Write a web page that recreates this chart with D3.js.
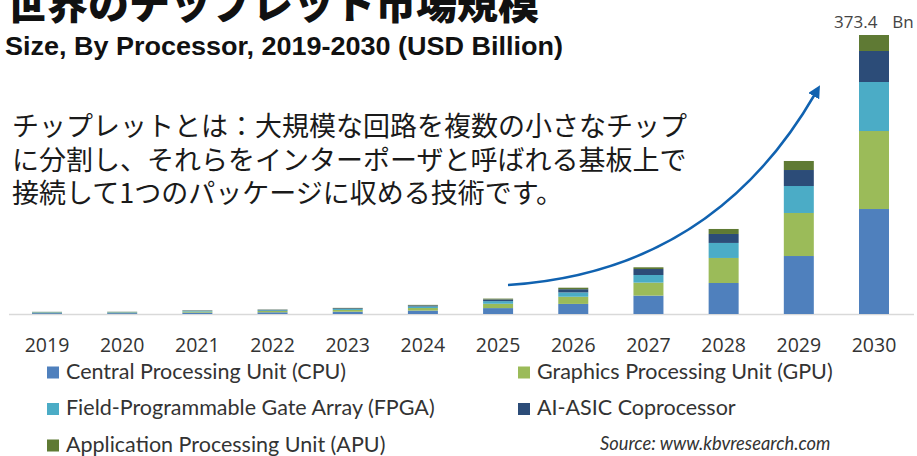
<!DOCTYPE html>
<html>
<head>
<meta charset="utf-8">
<script src="https://cdn.jsdelivr.net/npm/d3@7"></script>
<style>
  body { margin: 0; background: #fff; }
  svg { display: block; }
</style>
</head>
<body>
<script>
// chiplet market, USD billion
const years = ["2019", "2020", "2021", "2022", "2023", "2024", "2025", "2026", "2027", "2028", "2029", "2030"];
const cpu  = [1.2, 1.2, 1.9, 2.3, 3.1, 4.6, 7.9, 13.5, 24.6, 41.5, 77.6, 140.5];
const gpu  = [0.8, 0.8, 1.4, 1.7, 2.3, 3.4, 5.8, 9.6, 17.4, 33.5, 57.6, 104.4];
const fpga = [0.5, 0.5, 0.8, 1.0, 1.4, 2.1, 3.5, 5.8, 10.2, 20.1, 36.1, 65.6];
const asic = [0.3, 0.3, 0.5, 0.7, 0.9, 1.4, 2.3, 4.3, 8.0, 12.0, 21.4, 41.5];
const apu  = [0.1, 0.2, 0.3, 0.3, 0.5, 0.7, 1.1, 2.0, 2.3, 6.7, 12.1, 21.4];

const seriesNames = [
  "Central Processing Unit (CPU)",
  "Graphics Processing Unit (GPU)",
  "Field-Programmable Gate Array (FPGA)",
  "AI-ASIC Coprocessor",
  "Application Processing Unit (APU)"
];
const seriesKeys = ["cpu", "gpu", "fpga", "asic", "apu"];
const seriesColors = ["#4f80bd", "#9bbb59", "#4bacc6", "#2c4c78", "#5f7a34"];

const noteLines = [
  "チップレットとは：大規模な回路を複数の小さなチップ",
  "に分割し、それらをインターポーザと呼ばれる基板上で",
  "接続して1つのパッケージに収める技術です。"
];

const width = 917, height = 456;
const baseY = 314, topY = 35;
const barWidth = 30;

const table = years.map((y, i) => ({
  year: y, cpu: cpu[i], gpu: gpu[i], fpga: fpga[i], asic: asic[i], apu: apu[i]
}));
const totals = table.map((d) => d3.sum(seriesKeys, (k) => d[k]));

const svg = d3.select("body").append("svg")
  .attr("width", width)
  .attr("height", height);

const x = d3.scalePoint().domain(years).range([47, 874]);
const y = d3.scaleLinear().domain([0, d3.max(totals)]).range([baseY, topY]);
const color = d3.scaleOrdinal().domain(seriesKeys).range(seriesColors);

const stacked = d3.stack().keys(seriesKeys)(table);

// title + subtitle
svg.append("text")
  .attr("x", 6).attr("y", 19)
  .attr("font-family", "Noto Sans CJK JP")
  .attr("font-weight", 900)
  .attr("font-size", 41)
  .attr("fill", "#111")
  .text("世界のチップレット市場規模");

svg.append("text")
  .attr("x", 5).attr("y", 55)
  .attr("font-family", "Liberation Sans, Arial, sans-serif")
  .attr("font-weight", 700)
  .attr("font-size", 26)
  .attr("textLength", 558)
  .attr("lengthAdjust", "spacingAndGlyphs")
  .attr("fill", "#111")
  .text("Size, By Processor, 2019-2030 (USD Billion)");

// baseline
svg.append("line")
  .attr("x1", 9).attr("x2", 914)
  .attr("y1", baseY + 0.5).attr("y2", baseY + 0.5)
  .attr("stroke", "#d9d9d9")
  .attr("stroke-width", 1.5);

// stacked bars
svg.append("g")
  .selectAll("g")
  .data(stacked)
  .join("g")
  .attr("fill", (s) => color(s.key))
  .selectAll("rect")
  .data((s) => s)
  .join("rect")
  .attr("x", (d) => x(d.data.year) - barWidth / 2)
  .attr("y", (d) => y(d[1]))
  .attr("width", barWidth)
  .attr("height", (d) => y(d[0]) - y(d[1]));

// total label on last bar
const totalLabel = svg.append("text")
  .attr("x", x(years[years.length - 1]) - 40)
  .attr("y", 28)
  .attr("font-family", "Open Sans, sans-serif")
  .attr("font-size", 17)
  .attr("fill", "#444");
totalLabel.append("tspan").text(d3.format(".1f")(totals[totals.length - 1]));
totalLabel.append("tspan").attr("dx", 15).text("Bn");

// year labels
svg.append("g")
  .selectAll("text")
  .data(years)
  .join("text")
  .attr("x", (d) => x(d))
  .attr("y", 352)
  .attr("text-anchor", "middle")
  .attr("font-family", "Open Sans, sans-serif")
  .attr("font-size", 19.5)
  .attr("fill", "#333")
  .text((d) => d);

// growth arrow
svg.append("defs").append("marker")
  .attr("id", "head")
  .attr("viewBox", "0 0 10 10")
  .attr("refX", 2).attr("refY", 5)
  .attr("markerWidth", 5).attr("markerHeight", 5)
  .attr("markerUnits", "strokeWidth")
  .attr("orient", "auto")
  .append("path")
  .attr("d", "M0,0L10,5L0,10Z")
  .attr("fill", "#1062b0");

const arrow = d3.path();
arrow.moveTo(508, 285);
arrow.quadraticCurveTo(712, 272, 815, 94);
svg.append("path")
  .attr("d", arrow.toString())
  .attr("fill", "none")
  .attr("stroke", "#1062b0")
  .attr("stroke-width", 2.5)
  .attr("marker-end", "url(#head)");

// note text
svg.append("g")
  .selectAll("text")
  .data(noteLines)
  .join("text")
  .attr("x", 12)
  .attr("y", (d, i) => 136 + i * 33.5)
  .attr("font-family", "Noto Sans CJK JP")
  .attr("font-size", 27)
  .attr("fill", "#1a1a1a")
  .text((d) => d);

// legend
const legendPos = [[47, 378.5], [518, 378.5], [47, 415], [518, 415], [47, 451.5]];
const legend = svg.append("g")
  .selectAll("g")
  .data(seriesKeys)
  .join("g")
  .attr("transform", (d, i) => `translate(${legendPos[i][0]},${legendPos[i][1]})`);

legend.append("rect")
  .attr("x", 0).attr("y", -12)
  .attr("width", 12).attr("height", 12)
  .attr("fill", (d) => color(d));

legend.append("text")
  .attr("x", 19)
  .attr("y", 0)
  .attr("font-family", "Lato, sans-serif")
  .attr("font-size", 21.5)
  .attr("fill", "#333")
  .text((d, i) => seriesNames[i]);

svg.append("text")
  .attr("x", 600).attr("y", 450)
  .attr("font-family", "Lato, sans-serif")
  .attr("font-style", "italic")
  .attr("font-size", 18.3)
  .attr("fill", "#333")
  .text("Source: www.kbvresearch.com");
</script>
</body>
</html>
